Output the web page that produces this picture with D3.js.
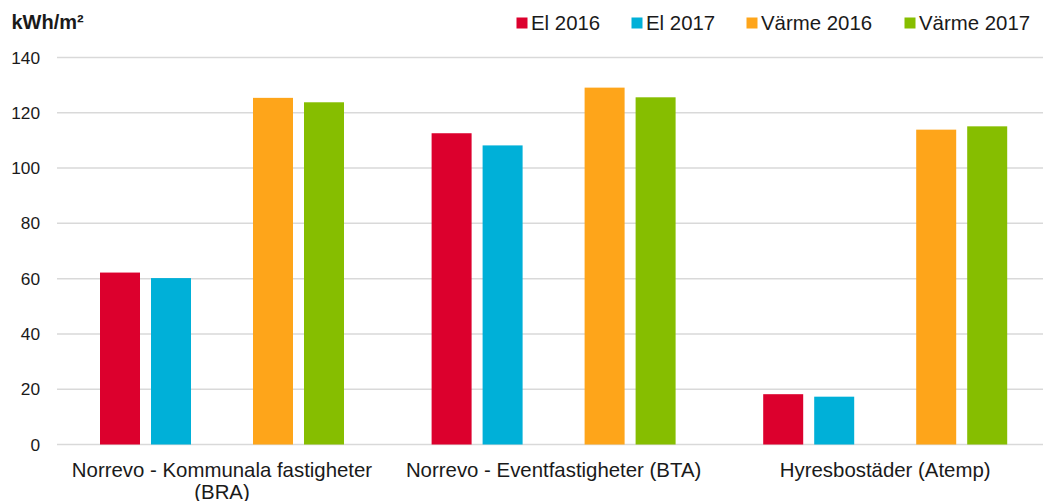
<!DOCTYPE html>
<html>
<head>
<meta charset="utf-8">
<script src="https://cdn.jsdelivr.net/npm/d3@7"></script>
<style>
  body { margin: 0; background: #fff; }
  svg { display: block; font-family: "Liberation Sans", Arial, sans-serif; }
</style>
</head>
<body>
<svg id="chart" width="1043" height="501"></svg>
<script>
// data
var categories = ["Norrevo - Kommunala fastigheter (BRA)", "Norrevo - Eventfastigheter (BTA)", "Hyresbostäder (Atemp)"];
var seriesNames = ["El 2016", "El 2017", "Värme 2016", "Värme 2017"];
var el2016 = [62.2, 112.6, 18.2];
var el2017 = [60.2, 108.2, 17.3];
var varme2016 = [125.4, 129.1, 113.9];
var varme2017 = [123.8, 125.6, 115.1];
var yTicks = [0, 20, 40, 60, 80, 100, 120, 140];

var colors = ["#dc002d", "#00b0d8", "#fea51a", "#86be00"];
var seriesValues = [el2016, el2017, varme2016, varme2017];

// there is an empty slot between the El and Värme bars
var slots = ["El 2016", "El 2017", "_gap", "Värme 2016", "Värme 2017"];

var svg = d3.select("#chart");

var x0 = d3.scaleBand()
	.domain(categories)
	.range([56.2, 56.2 + 3 * 331.6])
	.padding(0);

var x1 = d3.scaleBand()
	.domain(slots)
	.range([43.8, 287.8])
	.paddingInner(11 / 51)
	.paddingOuter(0);

var y = d3.scaleLinear()
	.domain([0, 140])
	.range([444.5, 57.5]);

// gridlines
svg.append("g")
	.selectAll("line")
	.data(yTicks)
	.join("line")
	.attr("x1", 57)
	.attr("x2", 1043)
	.attr("y1", function(d) { return y(d); })
	.attr("y2", function(d) { return y(d); })
	.attr("stroke", "#d9d9d9")
	.attr("stroke-width", 1.5);

// y axis labels
var yAxis = d3.axisLeft(y).tickValues(yTicks).tickSize(0).tickPadding(0);
var yg = svg.append("g")
	.attr("transform", "translate(40,0)")
	.call(yAxis);
yg.select(".domain").remove();
yg.selectAll("text")
	.attr("font-family", "Liberation Sans, Arial, sans-serif")
	.attr("font-size", 17.3)
	.attr("fill", "#1a1a1a");

// bars
var rows = [];
categories.forEach(function(c, i) {
	seriesNames.forEach(function(s, j) {
		rows.push({ cat: c, series: s, value: seriesValues[j][i], color: colors[j] });
	});
});

svg.append("g")
	.selectAll("rect")
	.data(rows)
	.join("rect")
	.attr("x", function(d) { return x0(d.cat) + x1(d.series); })
	.attr("y", function(d) { return y(d.value); })
	.attr("width", x1.bandwidth())
	.attr("height", function(d) { return y(0) - y(d.value); })
	.attr("fill", function(d) { return d.color; });

// category labels, wrapped like the original
function wrapText(textSel, width) {
	textSel.each(function() {
		var text = d3.select(this);
		var words = text.text().split(/\s+/);
		var xPos = text.attr("x");
		text.text(null);
		var line = [];
		var tspan = text.append("tspan").attr("x", xPos).attr("dy", 0);
		words.forEach(function(w) {
			line.push(w);
			tspan.text(line.join(" "));
			if (tspan.node().getComputedTextLength() > width && line.length > 1) {
				line.pop();
				tspan.text(line.join(" "));
				line = [w];
				tspan = text.append("tspan").attr("x", xPos).attr("dy", 21.5).text(w);
			}
		});
	});
}

svg.append("g")
	.selectAll("text")
	.data(categories)
	.join("text")
	.attr("x", function(d) { return x0(d) + x0.bandwidth() / 2; })
	.attr("y", 477)
	.attr("text-anchor", "middle")
	.attr("font-size", 20.4)
	.attr("fill", "#1a1a1a")
	.text(function(d) { return d; })
	.call(wrapText, 325);

// unit title
svg.append("text")
	.attr("x", 11.5)
	.attr("y", 29)
	.attr("font-size", 20)
	.attr("font-weight", "bold")
	.attr("fill", "#1a1a1a")
	.text("kWh/m²");

// legend
var legendX = [531, 646, 761, 919];
var legend = svg.append("g")
	.selectAll("g")
	.data(seriesNames)
	.join("g")
	.attr("transform", function(d, i) { return "translate(" + legendX[i] + ",0)"; });
legend.append("rect")
	.attr("x", -14.5)
	.attr("y", 17.5)
	.attr("width", 11)
	.attr("height", 11)
	.attr("fill", function(d, i) { return colors[i]; });
legend.append("text")
	.attr("x", 0)
	.attr("y", 30.3)
	.attr("font-size", 20.4)
	.attr("fill", "#1a1a1a")
	.text(function(d) { return d; });
</script>
</body>
</html>
